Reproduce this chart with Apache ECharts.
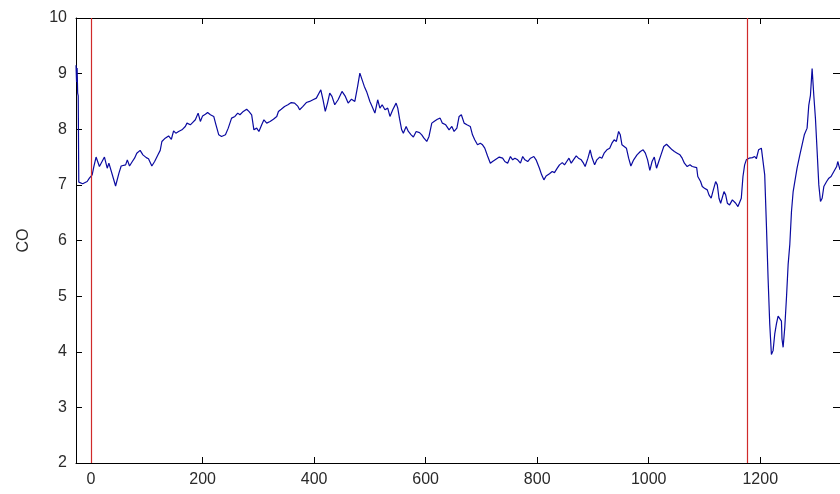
<!DOCTYPE html>
<html><head><meta charset="utf-8">
<script src="https://cdn.jsdelivr.net/npm/echarts@6/dist/echarts.min.js"></script>
<style>html,body{margin:0;padding:0;background:#fff}#c{width:840px;height:494px}</style>
</head><body><div id="c"></div>
<script>
const sampleX = [-27,-26,-25,-24,-23,-22,-20,-15,-12,-7,-3,-1,2,5,9,15,24,29,32,44,50,54,62,65,69,74,78,82,88,93,99,103,109,114,120,124,127,133,139,144,148,152,157,163,169,172,178,182,187,192,196,200,205,209,214,220,224,229,234,241,246,252,258,263,267,273,279,283,288,292,297,301,306,310,315,321,327,333,336,341,347,353,359,365,371,374,380,386,392,398,404,412,416,420,424,428,432,437,443,450,456,461,467,473,478,482,485,490,494,500,504,509,514,518,522,527,532,536,541,547,550,553,557,560,565,569,574,578,583,589,593,597,602,606,611,615,621,626,630,636,642,647,651,656,660,664,669,674,680,684,688,693,698,702,706,711,716,720,726,732,738,742,747,752,756,760,765,770,774,778,783,788,794,798,804,808,812,816,822,827,831,836,840,845,849,853,857,861,865,870,874,879,883,886,891,895,898,903,907,912,916,920,925,930,934,938,942,946,949,952,956,960,964,968,973,979,985,990,994,998,1002,1006,1010,1014,1018,1022,1027,1032,1036,1042,1046,1051,1056,1060,1064,1069,1074,1078,1081,1086,1088,1093,1096,1100,1105,1108,1112,1115,1120,1123,1126,1129,1132,1135,1138,1141,1145,1150,1153,1156,1160,1163,1166,1169,1172,1175,1180,1186,1190,1193,1197,1202,1205,1208,1211,1214,1217,1220,1223,1226,1229,1232,1235,1238,1239,1241,1244,1247,1250,1253,1256,1259,1263,1266,1271,1275,1279,1284,1287,1290,1293,1295,1296,1299,1302,1305,1308,1311,1314,1319,1323,1327,1332,1337,1339,1343];
const coValues = [9.15,8.85,9.1,8.65,8.6,7.05,7.02,7.02,7.04,7.06,7.12,7.15,7.18,7.33,7.50,7.33,7.50,7.30,7.39,6.98,7.21,7.34,7.36,7.45,7.34,7.42,7.48,7.57,7.62,7.54,7.49,7.47,7.34,7.42,7.54,7.62,7.78,7.84,7.88,7.82,7.97,7.93,7.96,7.99,8.05,8.11,8.08,8.12,8.17,8.29,8.14,8.24,8.27,8.30,8.26,8.23,8.08,7.90,7.87,7.90,8.02,8.20,8.23,8.29,8.26,8.32,8.36,8.32,8.26,7.99,8.02,7.96,8.08,8.17,8.11,8.14,8.18,8.23,8.32,8.36,8.41,8.44,8.48,8.47,8.41,8.35,8.41,8.48,8.50,8.53,8.56,8.71,8.53,8.32,8.47,8.65,8.59,8.44,8.53,8.68,8.59,8.47,8.54,8.50,8.77,9.01,8.98,8.77,8.68,8.50,8.41,8.29,8.53,8.38,8.44,8.35,8.38,8.23,8.35,8.47,8.38,8.20,7.99,7.93,8.05,7.96,7.90,7.86,7.96,7.94,7.90,7.84,7.78,7.87,8.11,8.14,8.18,8.20,8.11,8.08,7.99,8.05,7.96,8.02,8.23,8.26,8.11,8.08,8.05,7.90,7.81,7.72,7.75,7.72,7.66,7.52,7.39,7.42,7.46,7.50,7.48,7.42,7.39,7.51,7.45,7.48,7.45,7.39,7.51,7.45,7.42,7.48,7.51,7.45,7.30,7.18,7.09,7.16,7.20,7.24,7.22,7.30,7.36,7.40,7.36,7.42,7.48,7.39,7.45,7.52,7.48,7.45,7.39,7.33,7.48,7.63,7.50,7.36,7.45,7.50,7.48,7.57,7.63,7.66,7.75,7.81,7.78,7.96,7.90,7.72,7.69,7.66,7.48,7.34,7.45,7.54,7.60,7.63,7.57,7.45,7.26,7.42,7.50,7.30,7.42,7.54,7.69,7.73,7.69,7.63,7.60,7.57,7.54,7.48,7.39,7.33,7.36,7.33,7.30,7.31,7.15,7.06,6.97,6.94,6.91,6.82,6.76,6.88,7.06,7.00,6.76,6.67,6.70,6.88,6.82,6.67,6.64,6.73,6.73,6.67,6.61,6.58,6.76,7.15,7.36,7.45,7.48,7.49,7.51,7.47,7.63,7.66,7.65,7.18,6.29,5.33,4.50,3.95,4.02,4.32,4.50,4.64,4.67,4.55,4.23,4.08,4.44,4.97,5.57,5.93,6.52,6.88,7.12,7.30,7.54,7.72,7.90,8.02,8.43,8.61,9.09,9.06,8.61,8.19,7.60,7.00,6.70,6.76,6.97,7.06,7.12,7.15,7.24,7.33,7.42,7.27];
const xTicks = [0, 200, 400, 600, 800, 1000, 1200];
const markerX = [0, 1177];

const chart = echarts.init(document.getElementById('c'), null, {renderer: 'canvas'});
const font = '"Liberation Sans", Arial, sans-serif';
const lineCol = '#000';
const labelStyle = {fontSize: 16, color: '#2a2a2a', fontFamily: font};

chart.setOption({
  animation: false,
  backgroundColor: '#fff',
  grid: {left: 76, right: 0, top: 18, bottom: 31, containLabel: false},
  xAxis: [{
    type: 'value', min: -27, max: 1343, position: 'bottom',
    axisLine: {show: true, onZero: false, lineStyle: {color: lineCol, width: 1}},
    axisTick: {show: true, inside: true, length: 6, customValues: xTicks, lineStyle: {color: lineCol}},
    axisLabel: Object.assign({customValues: xTicks, margin: 9, formatter: v => String(v)}, labelStyle),
    splitLine: {show: false}
  }, {
    type: 'value', min: -27, max: 1343, position: 'top',
    axisLine: {show: true, onZero: false, lineStyle: {color: lineCol, width: 1}},
    axisTick: {show: true, inside: true, length: 6, customValues: xTicks, lineStyle: {color: lineCol}},
    axisLabel: {show: false},
    splitLine: {show: false}
  }],
  yAxis: [{
    type: 'value', min: 2, max: 10, interval: 1, position: 'left',
    name: 'CO', nameLocation: 'middle', nameGap: 44,
    nameTextStyle: {fontSize: 16, color: '#2a2a2a', fontFamily: font},
    axisLine: {show: true, onZero: false, lineStyle: {color: lineCol, width: 1}},
    axisTick: {show: true, inside: true, length: 6, lineStyle: {color: lineCol}},
    axisLabel: Object.assign({margin: 9, formatter: v => String(v)}, labelStyle),
    splitLine: {show: false}
  }, {
    type: 'value', min: 2, max: 10, interval: 1, position: 'right',
    axisLine: {show: true, onZero: false, lineStyle: {color: lineCol, width: 1}},
    axisTick: {show: true, inside: true, length: 7, lineStyle: {color: lineCol}},
    axisLabel: {show: false},
    splitLine: {show: false}
  }],
  series: [{
    type: 'line',
    data: sampleX.map((x, i) => [x, coValues[i]]),
    showSymbol: false,
    lineStyle: {color: '#0a0aa0', width: 1.2},
    markLine: {
      silent: true, symbol: 'none', animation: false,
      label: {show: false},
      lineStyle: {color: '#d02a2a', width: 1.2, type: 'solid'},
      data: markerX.map(x => ({xAxis: x}))
    }
  }]
});
</script>
</body></html>
